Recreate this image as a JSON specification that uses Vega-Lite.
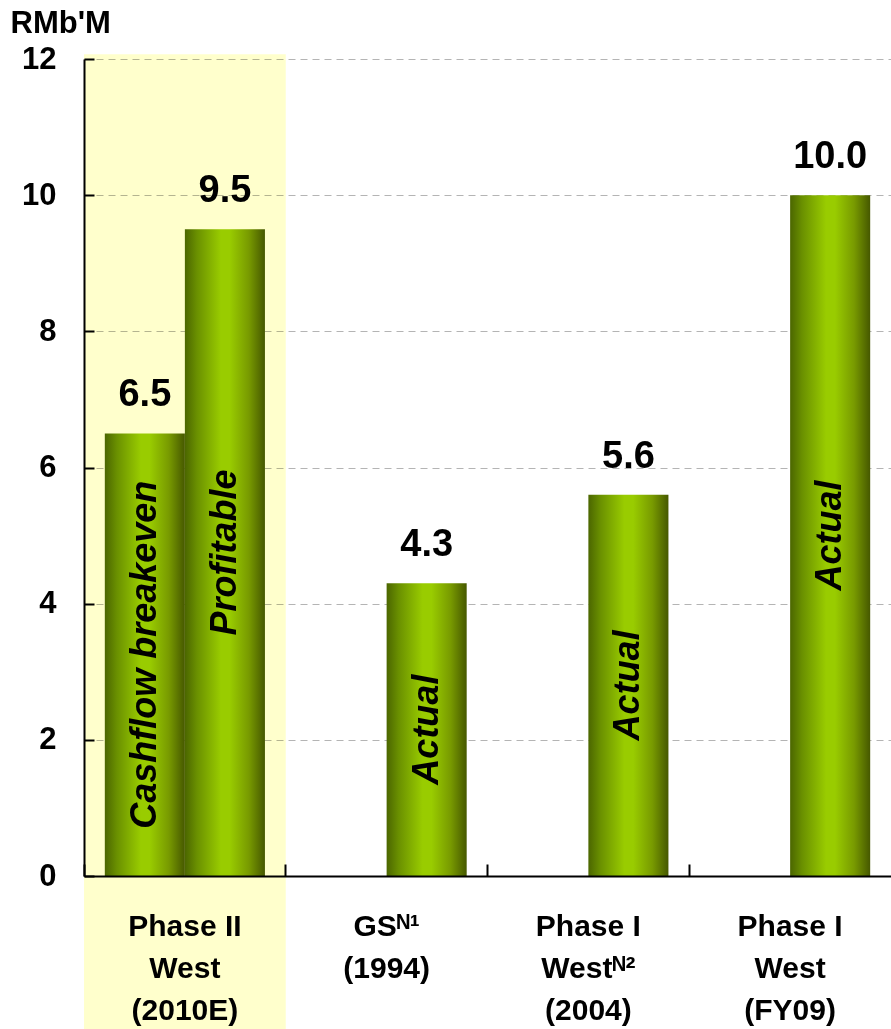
{
  "$schema": "https://vega.github.io/schema/vega-lite/v6.json",
  "width": 807,
  "height": 817,
  "autosize": {"type": "none"},
  "padding": {"left": 84, "top": 59, "right": 0, "bottom": 153},
  "background": "white",
  "config": {
    "font": "Liberation Sans",
    "view": {"stroke": null}
  },
  "datasets": {
    "bars": [
      {"cat": "Phase II|West|(2010E)", "series": "a", "value": 6.5, "label": "Cashflow breakeven"},
      {"cat": "Phase II|West|(2010E)", "series": "b", "value": 9.5, "label": "Profitable"},
      {"cat": "GSᴺ¹|(1994)", "series": "b", "value": 4.3, "label": "Actual"},
      {"cat": "Phase I|Westᴺ²|(2004)", "series": "b", "value": 5.6, "label": "Actual"},
      {"cat": "Phase I|West|(FY09)", "series": "b", "value": 10.0, "label": "Actual"}
    ],
    "highlight": [
      {"cat": "Phase II|West|(2010E)", "lo": -2.25, "hi": 12.07}
    ]
  },
  "encoding": {
    "x": {
      "field": "cat",
      "type": "nominal",
      "sort": null,
      "scale": {
        "domain": ["Phase II|West|(2010E)", "GSᴺ¹|(1994)", "Phase I|Westᴺ²|(2004)", "Phase I|West|(FY09)"],
        "paddingInner": 0,
        "paddingOuter": 0
      },
      "axis": {
        "title": null,
        "bandPosition": 0,
        "labelAngle": 0,
        "labelExpr": "split(datum.label, '|')",
        "labelFontSize": 30,
        "labelFontWeight": "bold",
        "labelColor": "black",
        "labelLineHeight": 42,
        "labelBaseline": "top",
        "labelAlign": "center",
        "labelPadding": 47,
        "labelLimit": 400,
        "tickSize": -12,
        "tickWidth": 2,
        "tickColor": "black",
        "domainColor": "black",
        "domainWidth": 2,
        "grid": false
      }
    }
  },
  "layer": [
    {
      "data": {"name": "highlight"},
      "mark": {"type": "rect", "color": "#ffffcc", "blend": "multiply", "clip": false},
      "encoding": {
        "y": {
          "field": "lo",
          "type": "quantitative",
          "scale": {"domain": [0, 12], "nice": false, "zero": true},
          "axis": {
            "title": "RMb'M",
            "titleAngle": 0,
            "titleX": -74,
            "titleY": -27,
            "titleAlign": "left",
            "titleBaseline": "alphabetic",
            "titleFontSize": 31,
            "titleFontWeight": "bold",
            "titleColor": "black",
            "values": [0, 2, 4, 6, 8, 10, 12],
            "format": "d",
            "labelFontSize": 31,
            "labelFontWeight": "bold",
            "labelColor": "black",
            "labelPadding": 38,
            "tickSize": -10,
            "tickWidth": 2,
            "tickColor": "black",
            "domainColor": "black",
            "domainWidth": 2,
            "grid": true,
            "gridColor": "#b4b4b4",
            "gridDash": [7, 5],
            "gridWidth": 1
          }
        },
        "y2": {"field": "hi"}
      }
    },
    {
      "data": {"name": "bars"},
      "mark": {
        "type": "bar",
        "color": {
          "gradient": "linear",
          "x1": 0, "x2": 1, "y1": 0, "y2": 0,
          "stops": [
            {"offset": 0, "color": "#4b6600"},
            {"offset": 0.15, "color": "#6a9000"},
            {"offset": 0.45, "color": "#99cc00"},
            {"offset": 0.56, "color": "#99cc00"},
            {"offset": 0.8, "color": "#789a00"},
            {"offset": 1, "color": "#465800"}
          ]
        }
      },
      "encoding": {
        "xOffset": {
          "field": "series",
          "type": "nominal",
          "scale": {"domain": ["a", "b"], "paddingInner": 0, "paddingOuter": 0.26}
        },
        "y": {"field": "value", "type": "quantitative"}
      }
    },
    {
      "data": {"name": "bars"},
      "mark": {
        "type": "text",
        "fontSize": 38,
        "fontWeight": "bold",
        "color": "black",
        "baseline": "alphabetic",
        "align": "center",
        "dy": -27
      },
      "encoding": {
        "xOffset": {
          "field": "series",
          "type": "nominal",
          "scale": {"domain": ["a", "b"], "paddingInner": 0, "paddingOuter": 0.26}
        },
        "y": {"field": "value", "type": "quantitative"},
        "text": {"field": "value", "type": "quantitative", "format": ".1f"}
      }
    },
    {
      "data": {"name": "bars"},
      "mark": {
        "type": "text",
        "fontSize": 36,
        "fontWeight": "bold",
        "fontStyle": "italic",
        "color": "black",
        "angle": 270,
        "baseline": "middle",
        "align": "center"
      },
      "encoding": {
        "xOffset": {
          "field": "series",
          "type": "nominal",
          "scale": {"domain": ["a", "b"], "paddingInner": 0, "paddingOuter": 0.26}
        },
        "y": {"field": "value", "type": "quantitative", "stack": "zero", "bandPosition": 0.5},
        "text": {"field": "label", "type": "nominal"}
      }
    }
  ]
}
